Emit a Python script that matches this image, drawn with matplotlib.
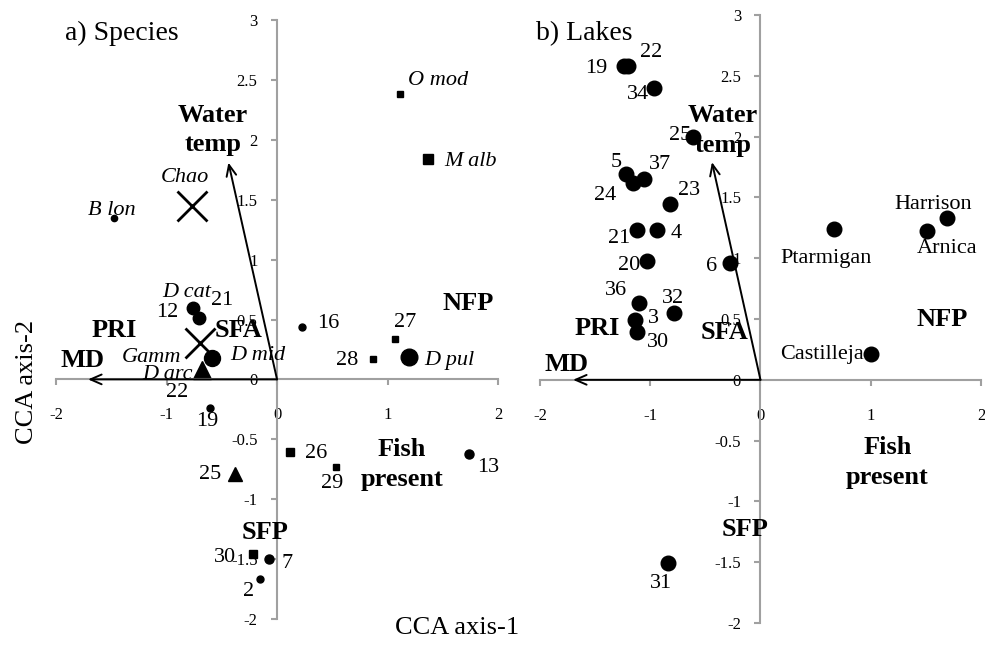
import matplotlib
matplotlib.use('Agg')
import matplotlib.pyplot as plt

plt.rcParams['font.family'] = 'Liberation Serif'

# ---- a) Species ----
sp_circle_names = ['B lon', '16', '19', '13', '7', '2', '12', '21', 'D mid', 'D pul']
sp_circle_x = [-1.48, 0.23, -0.61, 1.74, -0.07, -0.15, -0.76, -0.71, -0.59, 1.19]
sp_circle_y = [1.35, 0.44, -0.24, -0.62, -1.50, -1.67, 0.60, 0.51, 0.18, 0.19]

sp_square_names = ['O mod', 'M alb', '27', '28', '26', '29', '30']
sp_square_x = [1.11, 1.37, 1.07, 0.87, 0.12, 0.53, -0.22]
sp_square_y = [2.38, 1.84, 0.34, 0.17, -0.61, -0.73, -1.46]

sp_tri_names = ['D arc', '25']
sp_tri_x = [-0.68, -0.38]
sp_tri_y = [0.08, -0.79]

sp_cross_names = ['Chao', 'Gamm']
sp_cross_x = [-0.77, -0.70]
sp_cross_y = [1.45, 0.30]

# ---- b) Lakes ----
lake_names = ['19', '22', '34', '25', '5', '24', '37', '23', '21', '4', '20', '6',
              '36', '32', '3', '30', 'Ptarmigan', 'Arnica', 'Harrison', 'Castilleja', '31']
lake_x = [-1.24, -1.20, -0.97, -0.61, -1.22, -1.16, -1.06, -0.82, -1.12, -0.94, -1.03, -0.28,
          -1.10, -0.78, -1.14, -1.12, 0.67, 1.51, 1.69, 1.00, -0.84]
lake_y = [2.58, 2.58, 2.40, 2.00, 1.69, 1.62, 1.65, 1.45, 1.23, 1.23, 0.98, 0.96,
          0.63, 0.55, 0.49, 0.39, 1.24, 1.22, 1.33, 0.21, -1.51]

# environmental arrows (tip coordinates)
water_temp_sp = (-0.44, 1.81)
md_sp = (-1.71, 0.0)
water_temp_lk = (-0.44, 1.79)
md_lk = (-1.70, 0.0)

x_ticks = [-2, -1, 0, 1, 2]
y_ticks = [-2, -1.5, -1, -0.5, 0, 0.5, 1, 1.5, 2, 2.5, 3]

# ---- style ----
sp_circle_ms = [4.5, 5, 5, 6.5, 6.5, 5, 9, 9, 11.5, 12]
sp_square_ms = [4.5, 6.5, 5, 4.5, 6, 4.5, 6]
sp_tri_ms = [13, 10]
PX = 0.72  # pixel -> point
GRAY = '#A0A0A0'

# label offsets in pixels: name -> (dx, dy, ha, italic)
sp_labels = {
    'B lon': (-2, 7, 'center', True), '16': (15, 3, 'left', False),
    '19': (-2, -13, 'center', False), '13': (19, -14, 'center', False),
    '7': (18, -4, 'center', False), '2': (-12, -12, 'center', False),
    '12': (-26, -5, 'center', False), '21': (24, 18, 'center', False),
    'D mid': (18, 2, 'left', True), 'D pul': (16, -4, 'left', True),
    'O mod': (8, 14, 'left', True), 'M alb': (16, -3, 'left', True),
    '27': (10, 16, 'center', False), '28': (-26, -1, 'center', False),
    '26': (15, -1, 'left', False), '29': (-3, -17, 'center', False),
    '30': (-28, -3, 'center', False), 'D arc': (-9, -5, 'right', True),
    '25': (-25, 0, 'center', False), 'Chao': (-7, 28, 'center', True),
    'Gamm': (-18, -14, 'right', True),
}
# extra labels sharing a marker: text -> (anchor, dx, dy, italic)
sp_extra = {'D cat': ('12', -6, 15, True), '22': ('D arc', -25, -23, False)}

lake_labels = {
    '19': (-28, -2, 'center'), '22': (23, 14, 'center'), '34': (-16, -7, 'center'),
    '25': (-13, 1, 'center'), '5': (-10, 12, 'center'), '24': (-27, -13, 'center'),
    '37': (16, 15, 'center'), '23': (19, 13, 'center'), '21': (-18, -8, 'center'),
    '4': (19, -3, 'center'), '20': (-18, -5, 'center'), '6': (-18, -3, 'center'),
    '36': (-23, 13, 'center'), '32': (-1, 14, 'center'), '3': (19, 2, 'center'),
    '30': (21, -10, 'center'), 'Ptarmigan': (-8, -29, 'center'),
    'Arnica': (20, -17, 'center'), 'Harrison': (-14, 14, 'center'),
    'Castilleja': (-7, 0, 'right'), '31': (-7, -20, 'center'),
}


def setup(ax):
    ax.set_xlim(-2, 2)
    ax.set_ylim(-2, 3)
    for s in ['top', 'right']:
        ax.spines[s].set_visible(False)
    for s in ['left', 'bottom']:
        ax.spines[s].set_position(('data', 0))
        ax.spines[s].set_color(GRAY)
        ax.spines[s].set_linewidth(1.5)
    ax.set_xticks(x_ticks)
    ax.set_yticks(y_ticks)
    ax.set_xticklabels([f'{t:g}' for t in x_ticks])
    ax.set_yticklabels([f'{t:g}' for t in y_ticks])
    ax.tick_params(direction='out', length=4, width=1.5, color=GRAY,
                   labelsize=12, labelcolor='black')
    ax.tick_params(axis='x', pad=16)
    ax.tick_params(axis='y', pad=10)


def put(ax, txt, x, y, dx, dy, ha='center', italic=False):
    ax.annotate(txt, (x, y), xytext=(dx * PX, dy * PX), textcoords='offset points',
                ha=ha, va='center', fontsize=16, style='italic' if italic else 'normal')


def arrow(ax, tip):
    ax.annotate('', xy=tip, xytext=(0, 0),
                arrowprops=dict(arrowstyle='->,head_length=0.8,head_width=0.35',
                                lw=1.4, color='black', shrinkA=0, shrinkB=0))


def bold(ax, txt, x, y):
    ax.text(x, y, txt, ha='center', va='center', fontsize=19, fontweight='bold',
            linespacing=1.35)


fig = plt.figure(figsize=(9.85, 6.45), dpi=100)
ax1 = fig.add_axes([0.0569, 0.0403, 0.4487, 0.9287])
ax2 = fig.add_axes([0.5482, 0.0341, 0.4477, 0.9426])
setup(ax1)
setup(ax2)

# species panel
arrow(ax1, water_temp_sp)
arrow(ax1, md_sp)
pos = {}
for n, x, y, ms in zip(sp_circle_names, sp_circle_x, sp_circle_y, sp_circle_ms):
    ax1.plot(x, y, 'o', color='black', ms=ms, clip_on=False)
    pos[n] = (x, y)
for n, x, y, ms in zip(sp_square_names, sp_square_x, sp_square_y, sp_square_ms):
    ax1.plot(x, y, 's', color='black', ms=ms, clip_on=False)
    pos[n] = (x, y)
for n, x, y, ms in zip(sp_tri_names, sp_tri_x, sp_tri_y, sp_tri_ms):
    ax1.plot(x, y, '^', color='black', ms=ms, clip_on=False)
    pos[n] = (x, y)
for n, x, y in zip(sp_cross_names, sp_cross_x, sp_cross_y):
    ax1.plot(x, y, 'x', color='black', ms=22, mew=2, clip_on=False)
    pos[n] = (x, y)
for n, (dx, dy, ha, it) in sp_labels.items():
    put(ax1, n, pos[n][0], pos[n][1], dx, dy, ha, it)
for n, (anc, dx, dy, it) in sp_extra.items():
    put(ax1, n, pos[anc][0], pos[anc][1], dx, dy, 'center', it)

bold(ax1, 'Water\ntemp', -0.58, 2.08)
bold(ax1, 'PRI', -1.47, 0.41)
bold(ax1, 'MD', -1.76, 0.16)
bold(ax1, 'SFA', -0.35, 0.41)
bold(ax1, 'NFP', 1.73, 0.63)
bold(ax1, 'Fish\npresent', 1.13, -0.71)
bold(ax1, 'SFP', -0.11, -1.28)
ax1.text(-1.92, 2.89, 'a) Species', ha='left', va='center', fontsize=20)

# lakes panel
arrow(ax2, water_temp_lk)
arrow(ax2, md_lk)
for n, x, y in zip(lake_names, lake_x, lake_y):
    ax2.plot(x, y, 'o', color='black', ms=10.5, clip_on=False)
    dx, dy, ha = lake_labels[n]
    put(ax2, n, x, y, dx, dy, ha)

bold(ax2, 'Water\ntemp', -0.34, 2.05)
bold(ax2, 'PRI', -1.48, 0.42)
bold(ax2, 'MD', -1.76, 0.13)
bold(ax2, 'SFA', -0.33, 0.39)
bold(ax2, 'NFP', 1.65, 0.50)
bold(ax2, 'Fish\npresent', 1.15, -0.68)
bold(ax2, 'SFP', -0.14, -1.23)
ax2.text(-2.04, 2.85, 'b) Lakes', ha='left', va='center', fontsize=20)

fig.text(0.027, 0.408, 'CCA axis-2', rotation=90, ha='center', va='center', fontsize=19)
fig.text(0.464, 0.026, 'CCA axis-1', ha='center', va='center', fontsize=19)

fig.savefig('out.png', dpi=100)
